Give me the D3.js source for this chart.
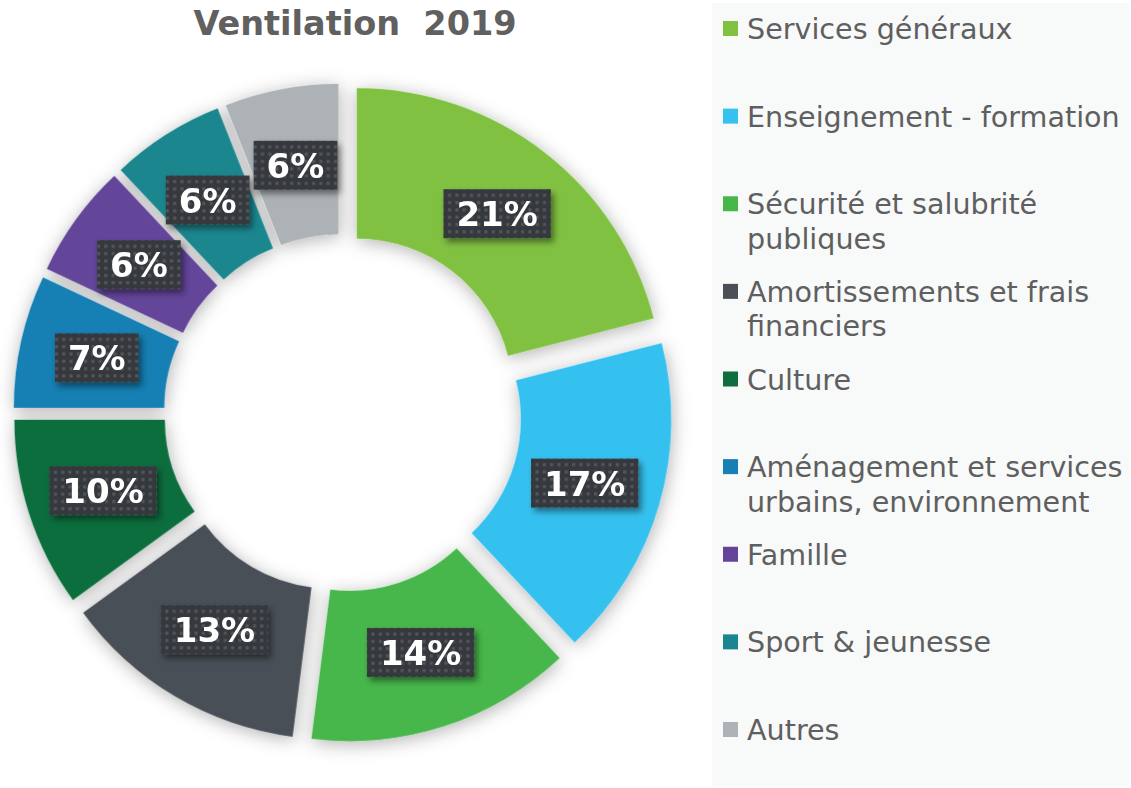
<!DOCTYPE html>
<html>
<head>
<meta charset="utf-8">
<script src="https://cdn.jsdelivr.net/npm/d3@7"></script>
<style>
  html, body { margin: 0; padding: 0; background: #ffffff; }
  svg { display: block; }
</style>
</head>
<body>
<svg id="chart" width="1131" height="788"></svg>
<script>
const title = "Ventilation  2019";
const categories = [
  "Services généraux",
  "Enseignement - formation",
  "Sécurité et salubrité publiques",
  "Amortissements et frais financiers",
  "Culture",
  "Aménagement et services urbains, environnement",
  "Famille",
  "Sport & jeunesse",
  "Autres"
];
const values = [21, 17, 14, 13, 10, 7, 6, 6, 6];
const colors = ["#80c142", "#36c1ef", "#47b74b", "#4a4f57", "#0e6e3e", "#167fb3", "#63449a", "#1b868f", "#adb2b7"];

const svg = d3.select("#chart");

const defs = svg.append("defs");
const segShadow = defs.append("filter").attr("id", "segShadow")
  .attr("x", "-20%").attr("y", "-20%").attr("width", "140%").attr("height", "140%");
segShadow.append("feDropShadow").attr("dx", 1).attr("dy", 3).attr("stdDeviation", 9)
  .attr("flood-color", "#000").attr("flood-opacity", 0.3);

const boxShadow = defs.append("filter").attr("id", "boxShadow")
  .attr("x", "-20%").attr("y", "-30%").attr("width", "150%").attr("height", "170%");
boxShadow.append("feDropShadow").attr("dx", 3).attr("dy", 4).attr("stdDeviation", 3)
  .attr("flood-color", "#000").attr("flood-opacity", 0.45);

const pat = defs.append("pattern").attr("id", "dots")
  .attr("patternUnits", "userSpaceOnUse").attr("width", 7.3).attr("height", 7.3);
pat.append("rect").attr("width", 7.3).attr("height", 7.3).attr("fill", "#36393e");
pat.append("rect").attr("x", 2).attr("y", 2).attr("width", 3).attr("height", 3).attr("fill", "#53575c");

// Legend background
svg.append("rect").attr("x", 712).attr("y", 3).attr("width", 417).attr("height", 783)
  .attr("fill", "#f8f9f9");

// Title
svg.append("text")
  .attr("x", 355).attr("y", 35)
  .attr("text-anchor", "middle")
  .style("white-space", "pre")
  .attr("font-family", "'DejaVu Sans', Verdana, sans-serif")
  .attr("font-weight", "bold")
  .attr("font-size", 33.5)
  .attr("fill", "#606060")
  .text(title);

// Donut
const cx = 342.7, cy = 412.8;
const outerR = 306.5, innerR = 156, explode = 23, labelR = 229;
const pie = d3.pie().sort(null).value(d => d)(values);
const arc = d3.arc().innerRadius(innerR).outerRadius(outerR);
const labelArc = d3.arc().innerRadius(labelR).outerRadius(labelR);
const color = d3.scaleOrdinal().domain(categories).range(colors);

const g = svg.append("g").attr("transform", `translate(${cx},${cy})`);
const offset = p => {
  const a = (p.startAngle + p.endAngle) / 2;
  return [explode * Math.sin(a), -explode * Math.cos(a)];
};

g.append("g").attr("filter", "url(#segShadow)")
  .selectAll("path").data(pie).join("path")
  .attr("transform", p => `translate(${offset(p)})`)
  .attr("d", arc)
  .attr("fill", (p, i) => color(categories[i]));

// Labels
const fmt = v => v + "%";
const lab = g.append("g").selectAll("g").data(pie).join("g")
  .attr("transform", p => {
    const o = offset(p), c = labelArc.centroid(p);
    return `translate(${o[0] + c[0]},${o[1] + c[1]})`;
  });
lab.each(function(p) {
  const s = d3.select(this);
  const t = s.append("text")
    .attr("text-anchor", "middle")
    .attr("y", 12.5)
    .attr("font-family", "'DejaVu Sans', Verdana, sans-serif")
    .attr("font-weight", "bold")
    .attr("font-size", 34)
    .attr("fill", "#ffffff")
    .text(fmt(p.data));
  const w = t.node().getComputedTextLength() + 26;
  s.insert("rect", "text")
    .attr("x", -w / 2).attr("y", -24.5).attr("width", w).attr("height", 49)
    .attr("fill", "url(#dots)")
    .attr("filter", "url(#boxShadow)");
});

// Legend
const ly = d3.scalePoint().domain(categories).range([39, 740]);
const legend = svg.append("g");
const maxW = 382;
categories.forEach((c, i) => {
  const y = ly(c);
  legend.append("rect").attr("x", 723).attr("y", y - 18).attr("width", 15).attr("height", 15)
    .attr("fill", colors[i]);
  const t = legend.append("text")
    .attr("x", 747).attr("y", y)
    .attr("font-family", "'DejaVu Sans', Verdana, sans-serif")
    .attr("font-size", 28.6)
    .attr("fill", "#5f5f5f");
  const words = c.split(" ");
  let line = [];
  let ts = t.append("tspan").attr("x", 747).attr("dy", 0);
  words.forEach(wd => {
    line.push(wd);
    ts.text(line.join(" "));
    if (ts.node().getComputedTextLength() > maxW && line.length > 1) {
      line.pop();
      ts.text(line.join(" "));
      line = [wd];
      ts = t.append("tspan").attr("x", 747).attr("dy", 34.5).text(wd);
    }
  });
});
</script>
</body>
</html>
